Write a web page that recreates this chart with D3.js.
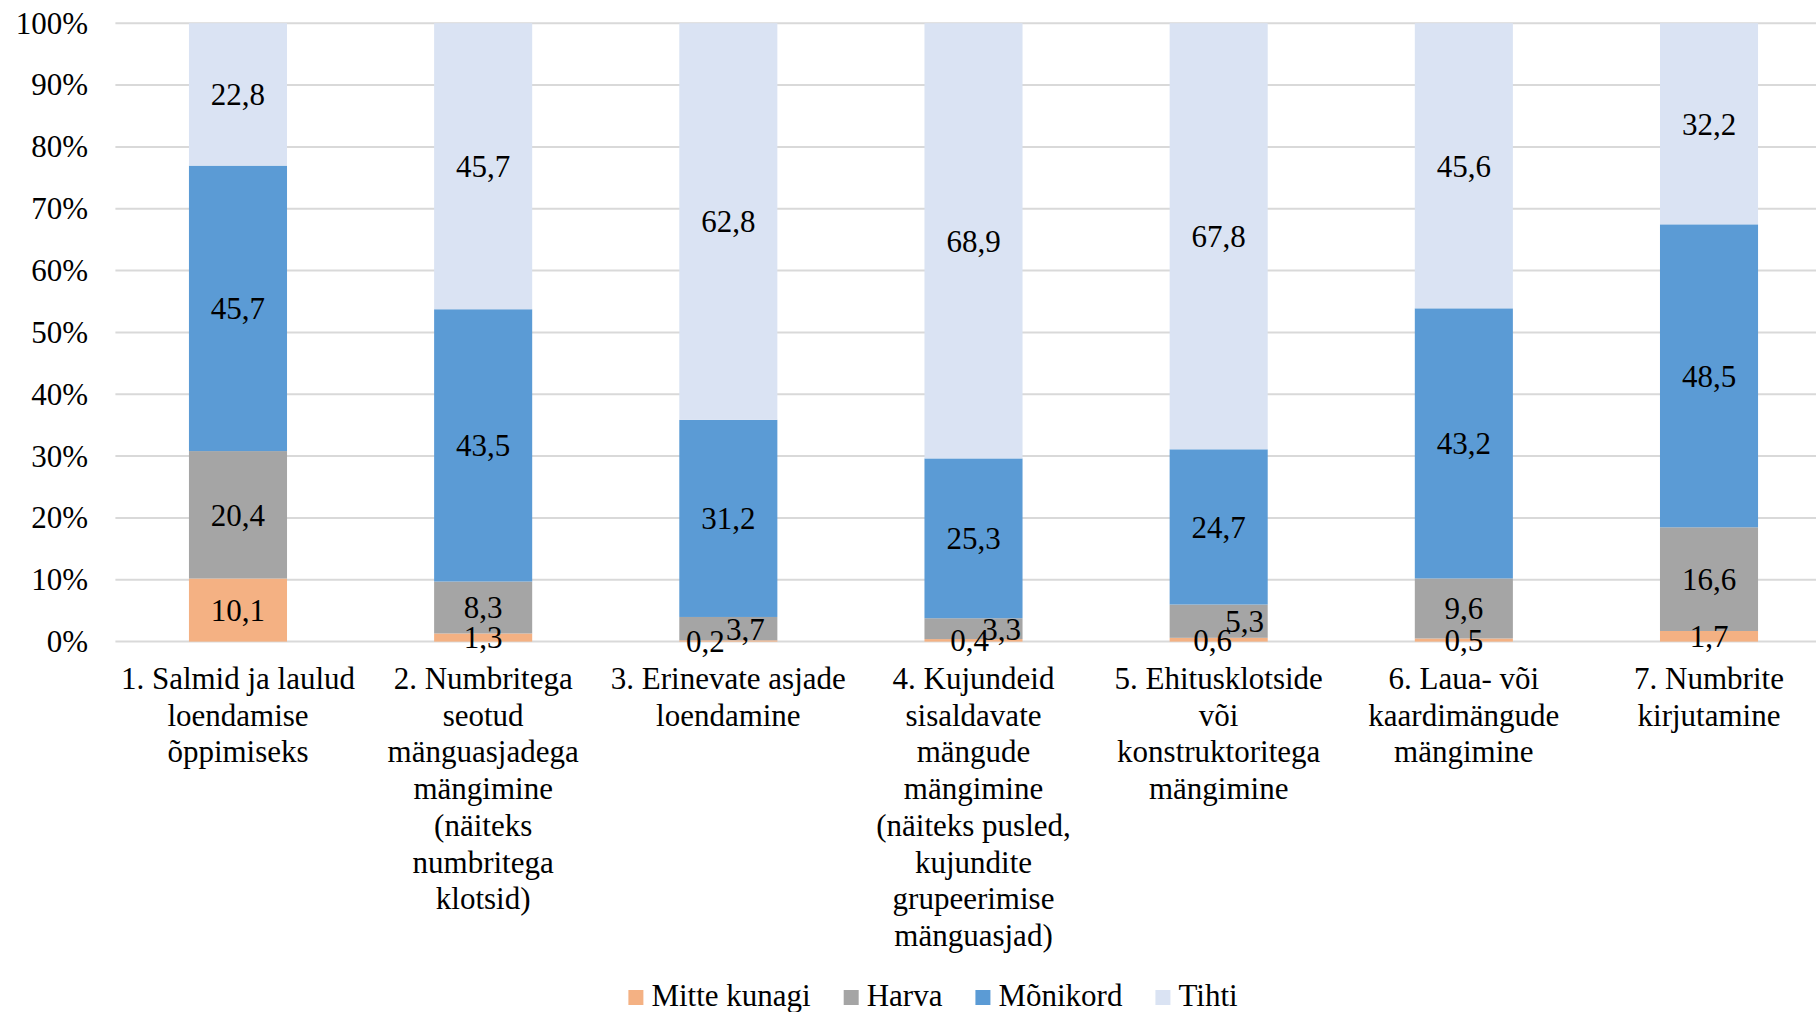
<!DOCTYPE html>
<html>
<head>
<meta charset="utf-8">
<script src="https://cdn.jsdelivr.net/npm/d3@7"></script>
<style>
body{margin:0;background:#fff}
svg{display:block}
text{font-family:"Liberation Serif","Times New Roman",serif;fill:#000}
</style>
</head>
<body>
<svg id="chart" width="1816" height="1012"></svg>
<script>
// categories, each one split into the lines shown under the bar
var categories=[
 ["1. Salmid ja laulud","loendamise","õppimiseks"],
 ["2. Numbritega","seotud","mänguasjadega","mängimine","(näiteks","numbritega","klotsid)"],
 ["3. Erinevate asjade","loendamine"],
 ["4. Kujundeid","sisaldavate","mängude","mängimine","(näiteks pusled,","kujundite","grupeerimise","mänguasjad)"],
 ["5. Ehitusklotside","või","konstruktoritega","mängimine"],
 ["6. Laua- või","kaardimängude","mängimine"],
 ["7. Numbrite","kirjutamine"]
]
var seriesNames=["Mitte kunagi","Harva","Mõnikord","Tihti"]
var mitteKunagi=[10.1,1.3,0.2,0.4,0.6,0.5,1.7]
var harva=[20.4,8.3,3.7,3.3,5.3,9.6,16.6]
var monikord=[45.7,43.5,31.2,25.3,24.7,43.2,48.5]
var tihti=[22.8,45.7,62.8,68.9,67.8,45.6,32.2]
var yTicks=[0,0.1,0.2,0.3,0.4,0.5,0.6,0.7,0.8,0.9,1]

var colors=["#F4B183","#A5A5A5","#5B9BD5","#DAE3F3"]
// sideways nudge for labels that would overlap in thin segments (series index -> category index -> px)
var nudge={0:{2:-23,3:-4,4:-6},1:{2:17,3:28,4:26}}

var svg=d3.select("#chart")
var plotL=115.4,plotR=1831.6,plotT=23.2,plotB=641.6

var x=d3.scaleBand().domain(d3.range(categories.length)).range([plotL,plotR]).paddingInner(0.6).paddingOuter(0.3)
var y=d3.scaleLinear().domain([0,1]).range([plotB,plotT])

// rows for the stack, values shown as share of each bar's total
var vals=[mitteKunagi,harva,monikord,tihti]
var rows=categories.map((c,i)=>{
	var r={i:i}
	var tot=d3.sum(vals,v=>v[i])
	seriesNames.forEach((s,k)=>{r[s]=vals[k][i]/tot})
	return r
})
var stack=d3.stack().keys(seriesNames)(rows)

// gridlines
svg.append("g").selectAll("line")
.data(yTicks)
.enter()
.append("line")
.attr("x1",plotL).attr("x2",plotR)
.attr("y1",d=>y(d)).attr("y2",d=>y(d))
.attr("stroke","#D9D9D9")
.attr("stroke-width",2)

// y axis labels
var yAxis=d3.axisLeft(y).tickValues(yTicks).tickFormat(d3.format(".0%")).tickSize(0).tickPadding(0)
var ya=svg.append("g").attr("transform","translate(88,0)").call(yAxis)
ya.select(".domain").remove()
ya.selectAll("text").style("font-size","31px").style("font-family",'"Liberation Serif",serif').attr("fill","#000")

// bars
var layers=svg.append("g").selectAll("g")
.data(stack)
.enter()
.append("g")
.attr("fill",(d,k)=>colors[k])
layers.selectAll("rect")
.data(d=>d)
.enter()
.append("rect")
.attr("x",d=>x(d.data.i))
.attr("width",x.bandwidth())
.attr("y",d=>y(d[1]))
.attr("height",d=>y(d[0])-y(d[1]))

// data labels
var fmt=v=>d3.format(".1f")(v).replace(".",",")
stack.forEach((layer,k)=>{
	svg.append("g").selectAll("text")
	.data(layer)
	.enter()
	.append("text")
	.attr("x",d=>x(d.data.i)+x.bandwidth()/2+((nudge[k]&&nudge[k][d.data.i])||0))
	.attr("y",d=>(y(d[0])+y(d[1]))/2)
	.attr("dy","0.35em")
	.attr("text-anchor","middle")
	.style("font-size","31px")
	.text(d=>fmt(vals[k][d.data.i]))
})

// category labels
var cat=svg.append("g").selectAll("text")
.data(categories)
.enter()
.append("text")
.attr("text-anchor","middle")
.style("font-size","31px")
.attr("transform",(d,i)=>"translate("+(x(i)+x.bandwidth()/2)+",689)")
cat.selectAll("tspan")
.data(d=>d)
.enter()
.append("tspan")
.attr("x",0)
.attr("y",(d,j)=>j*36.7)
.text(d=>d)

// legend, centred under the chart area
var leg=svg.append("g")
var items=leg.selectAll("g")
.data(seriesNames)
.enter()
.append("g")
items.append("rect").attr("width",15).attr("height",15).attr("y",-16).attr("fill",(d,k)=>colors[k])
items.append("text").attr("x",23).style("font-size","31px").text(d=>d)
var pos=0
items.each(function(){
	var w=d3.select(this).select("text").node().getComputedTextLength()
	d3.select(this).attr("transform","translate("+pos+",0)")
	pos+=23+w+33
})
pos-=33
leg.attr("transform","translate("+(933-pos/2)+",1006)")
</script>
</body>
</html>
